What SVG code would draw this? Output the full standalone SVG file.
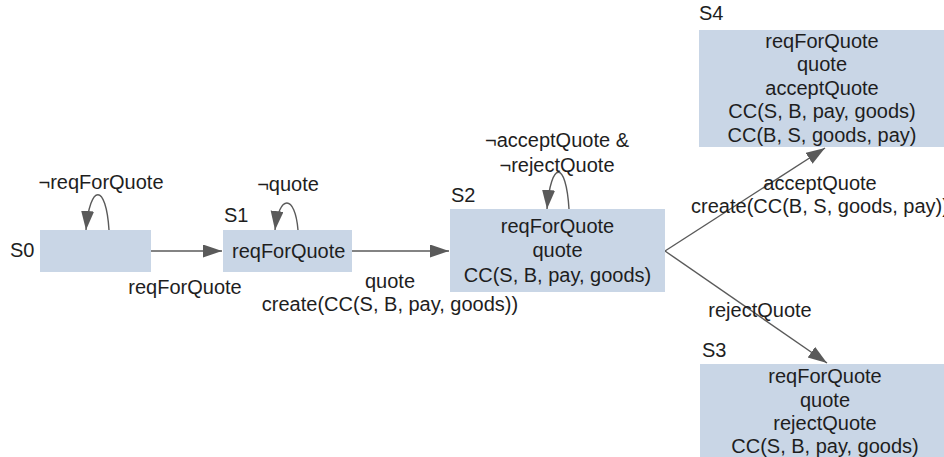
<svg xmlns="http://www.w3.org/2000/svg" width="944" height="457" viewBox="0 0 944 457">
  <defs>
    <marker id="arrow" markerUnits="userSpaceOnUse" markerWidth="20" markerHeight="14" refX="19" refY="6.5" orient="auto">
      <path d="M0,0 L19,6.5 L0,13 z" fill="#5a5a5a"/>
    </marker>
    <style>
      text { font-family: "Liberation Sans", Arial, sans-serif; font-size: 20px; fill: #1e1e1e; }
      .c { text-anchor: middle; }
      .state { fill: #c9d6e6; }
      .edge { fill: none; stroke: #5a5a5a; stroke-width: 1.4; marker-end: url(#arrow); }
    </style>
  </defs>
  <rect width="944" height="457" fill="#ffffff"/>

  <g id="connectors">
    <path class="edge" d="M109,230 C106,183 90,183 86,230"/>
    <path class="edge" d="M151,251 L222,251"/>
    <path class="edge" d="M298,230 C295,194 279,194 275,230"/>
    <path class="edge" d="M352,251 L449,251"/>
    <path class="edge" d="M569,209 C566,160 551,160 547,209"/>
    <path class="edge" d="M665,251 L825,148"/>
    <path class="edge" d="M665,251 L827,363"/>
    <text class="c" x="101" y="189">¬reqForQuote</text>
    <text class="c" x="185" y="294">reqForQuote</text>
    <text class="c" x="288" y="191">¬quote</text>
    <text class="c" x="390" y="288">quote</text>
    <text class="c" x="390" y="311">create(CC(S, B, pay, goods))</text>
    <text class="c" x="557" y="147">¬acceptQuote &amp;</text>
    <text class="c" x="557" y="172">¬rejectQuote</text>
    <text class="c" x="820" y="190">acceptQuote</text>
    <text class="c" x="820" y="213">create(CC(B, S, goods, pay))</text>
    <text class="c" x="760" y="317">rejectQuote</text>
  </g>

  <g id="S0">
    <rect class="state" x="40" y="230" width="111" height="42"/>
    <text x="10" y="257">S0</text>
  </g>

  <g id="S1">
    <rect class="state" x="223" y="230" width="129" height="42"/>
    <text x="224" y="222">S1</text>
    <text x="232" y="258">reqForQuote</text>
  </g>

  <g id="S2">
    <rect class="state" x="450" y="209" width="215" height="83"/>
    <text x="451" y="202">S2</text>
    <text class="c" x="557.5" y="233">reqForQuote</text>
    <text class="c" x="557.5" y="257">quote</text>
    <text class="c" x="557.5" y="282">CC(S, B, pay, goods)</text>
  </g>

  <g id="S4">
    <rect class="state" x="699" y="30" width="250" height="117"/>
    <text x="699" y="20">S4</text>
    <text class="c" x="822" y="48">reqForQuote</text>
    <text class="c" x="822" y="71">quote</text>
    <text class="c" x="822" y="95">acceptQuote</text>
    <text class="c" x="822" y="118">CC(S, B, pay, goods)</text>
    <text class="c" x="822" y="142">CC(B, S, goods, pay)</text>
  </g>

  <g id="S3">
    <rect class="state" x="700" y="364" width="250" height="100"/>
    <text x="702" y="357">S3</text>
    <text class="c" x="825" y="383">reqForQuote</text>
    <text class="c" x="825" y="407">quote</text>
    <text class="c" x="825" y="430">rejectQuote</text>
    <text class="c" x="825" y="453">CC(S, B, pay, goods)</text>
  </g>
</svg>
